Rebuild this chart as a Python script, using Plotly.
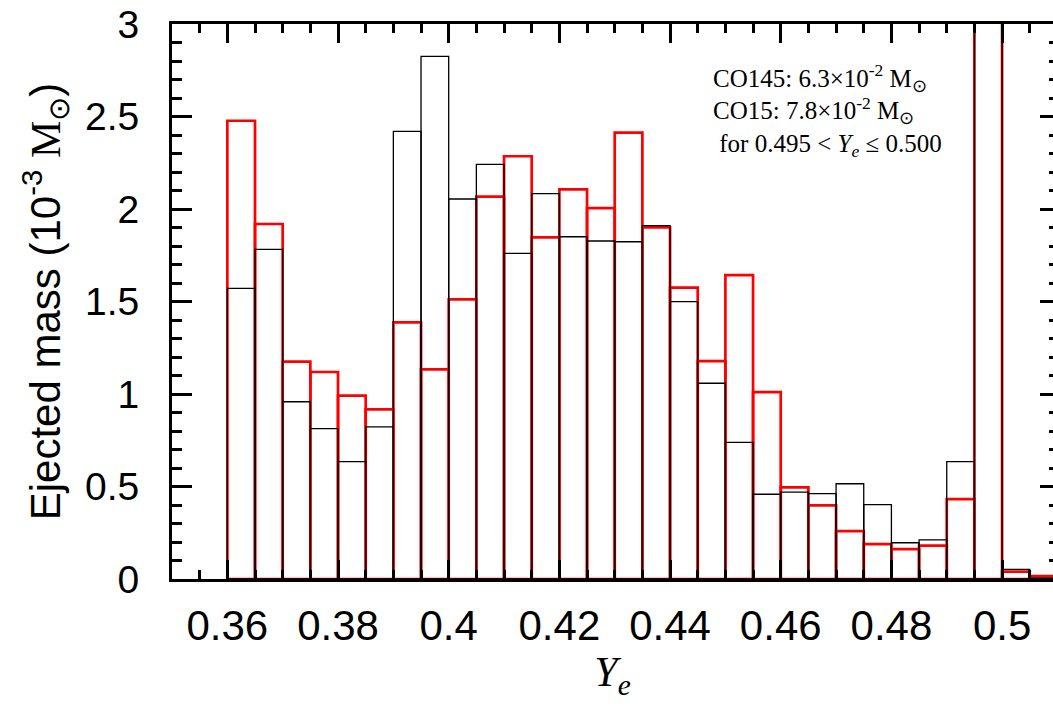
import plotly.graph_objects as go

# Ye bin left edges (width 0.005)
bin_width = 0.005
bin_edges = [0.360, 0.365, 0.370, 0.375, 0.380, 0.385, 0.390, 0.395, 0.400, 0.405,
             0.410, 0.415, 0.420, 0.425, 0.430, 0.435, 0.440, 0.445, 0.450, 0.455,
             0.460, 0.465, 0.470, 0.475, 0.480, 0.485, 0.490, 0.495, 0.500, 0.505]

# Ejected mass per bin, units of 1e-3 Msun
mass_co145 = [1.571, 1.782, 0.958, 0.813, 0.634, 0.822, 2.420, 2.825, 2.054, 2.241,
              1.760, 2.083, 1.850, 1.827, 1.823, 1.910, 1.499, 1.058, 0.739, 0.458,
              0.470, 0.461, 0.515, 0.402, 0.196, 0.212, 0.634, 63.0, 0.052, 0.005]
mass_co15 = [2.477, 1.919, 1.175, 1.119, 0.991, 0.917, 1.387, 1.133, 1.511, 2.067,
             2.285, 1.847, 2.106, 2.005, 2.413, 1.901, 1.575, 1.178, 1.643, 1.010,
             0.495, 0.398, 0.259, 0.189, 0.162, 0.180, 0.432, 78.0, 0.040, 0.016]

centers = [e + bin_width / 2 for e in bin_edges]

fig = go.Figure()
fig.add_trace(go.Bar(
    x=centers, y=mass_co15, width=bin_width, name="CO15",
    marker=dict(color="rgba(0,0,0,0)", line=dict(color="#ff0000", width=2.7)),
    hoverinfo="skip", showlegend=False,
))
fig.add_trace(go.Bar(
    x=centers, y=mass_co145, width=bin_width, name="CO145",
    marker=dict(color="rgba(0,0,0,0)", line=dict(color="#000000", width=1.3)),
    hoverinfo="skip", showlegend=False,
))
# carrier for the right-hand tick axis
fig.add_trace(go.Scatter(x=[], y=[], yaxis="y2", showlegend=False, hoverinfo="skip"))

sans = "Liberation Sans, Arial, Helvetica, sans-serif"
serif = "Liberation Serif, Times New Roman, serif"

fig.update_layout(
    width=1053, height=713,
    margin=dict(l=172, r=0, t=24, b=134),
    paper_bgcolor="white", plot_bgcolor="white",
    barmode="overlay",
    xaxis=dict(
        range=[0.35, 0.5092],
        tickmode="linear", tick0=0.36, dtick=0.02,
        ticks="inside", ticklen=19, tickwidth=3, tickcolor="black",
        minor=dict(tick0=0.36, dtick=0.005, ticks="inside", ticklen=9,
                   tickwidth=2.5, tickcolor="black", showgrid=False),
        showline=True, linewidth=3, linecolor="black", mirror="ticks",
        showgrid=False, zeroline=False,
        tickfont=dict(family=sans, size=42, color="black"),
        ticklabelstandoff=8,
        title=dict(text="<i>Y</i><sub><i>e</i></sub>",
                   font=dict(family=serif, size=42, color="black"), standoff=0),
    ),
    yaxis=dict(
        range=[0, 3],
        tickmode="linear", tick0=0, dtick=0.5,
        ticks="inside", ticklen=20, tickwidth=3, tickcolor="black",
        minor=dict(dtick=0.1, ticks="inside", ticklen=10, tickwidth=2.5,
                   tickcolor="black", showgrid=False),
        showline=True, linewidth=3, linecolor="black",
        showgrid=False, zeroline=False,
        tickfont=dict(family=sans, size=39, color="black"),
        ticklabelstandoff=22,
        title=dict(
            text="Ejected mass (10<sup>-3</sup> "
                 "<span style='font-family:Liberation Serif'>M</span><sub>⊙</sub>)",
            font=dict(family=sans, size=42, color="black"), standoff=12),
    ),
    yaxis2=dict(
        range=[0, 3], overlaying="y", side="right",
        tickmode="linear", tick0=0, dtick=0.5,
        ticks="inside", ticklen=13, tickwidth=3, tickcolor="black",
        minor=dict(dtick=0.1, ticks="inside", ticklen=4, tickwidth=2.5,
                   tickcolor="black", showgrid=False),
        showline=False, showgrid=False, zeroline=False, showticklabels=False,
    ),
)

note_lines = [
    "CO145: 6.3×10<sup>-2</sup> M<sub>⊙</sub>",
    "CO15: 7.8×10<sup>-2</sup> M<sub>⊙</sub>",
    " for 0.495 &lt; <i>Y</i><sub><i>e</i></sub> ≤ 0.500",
]
fig.add_annotation(
    x=0.612, y=0.845, xref="paper", yref="paper",
    xanchor="left", yanchor="middle", align="left", showarrow=False,
    text="<br>".join(note_lines), font=dict(family=serif, size=25, color="black"),
)

fig.write_html("out.html")
